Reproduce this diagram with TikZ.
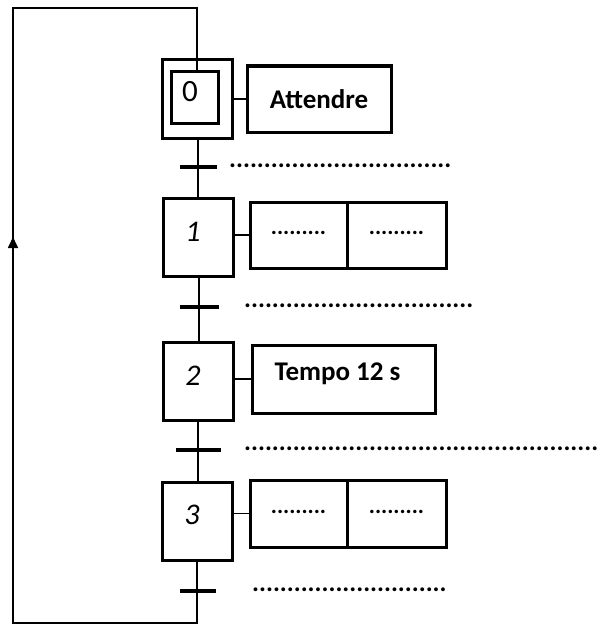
\documentclass[tikz,border=0pt]{standalone}
\usepackage{fontspec}
\setmainfont{Carlito}
\usetikzlibrary{arrows.meta}
\begin{document}
\begin{tikzpicture}[x=1pt,y=-1pt,
  stepbox/.style={draw, line width=3pt, minimum width=70pt, minimum height=78pt, inner sep=0pt},
  innerbox/.style={draw, line width=3pt, minimum width=47pt, minimum height=52pt, inner sep=0pt},
  actbox/.style={draw, line width=3pt, minimum height=66pt, inner sep=0pt, font=\fontsize{27}{30}\selectfont\bfseries},
  steplabel/.style={font=\fontsize{30}{34}\selectfont\itshape, inner sep=0pt},
  dotsbox/.style={font=\fontsize{23}{26}\selectfont\bfseries, inner sep=0pt},
  recept/.style={font=\fontsize{26}{30}\selectfont\bfseries, inner sep=0pt, anchor=west},
  link/.style={line width=1.7pt},
  trans/.style={line width=3.2pt}
]
\useasboundingbox (0,0) rectangle (603,626);

% steps
\node[stepbox] (s0) at (197,99) {};
\node[innerbox] (s0i) at (195,97) {};
\node[font=\fontsize{31}{34}\selectfont, inner sep=0pt] (l0) at (190,92) {0};
\node[stepbox] (s1) at (198,237.5) {};
\node[steplabel] (l1) at (193,232) {1};
\node[stepbox] (s2) at (198,381.5) {};
\node[steplabel] (l2) at (193,376) {2};
\node[stepbox] (s3) at (197.5,521) {};
\node[steplabel] (l3) at (192,515) {3};

% actions
\node[actbox, minimum width=144pt] (a0) at (319,99) {Attendre};
\node[actbox, minimum width=97pt] (a1a) at (298.5,235) {};
\node[actbox, minimum width=99pt] (a1b) at (396.5,235) {};
\node[dotsbox] (d1a) at (298.5,233) {.........};
\node[dotsbox] (d1b) at (396.5,233) {.........};
\node[actbox, minimum width=183pt, minimum height=68pt] (a2) at (343.5,379) {};
\node[font=\fontsize{27}{30}\selectfont\bfseries, inner sep=0pt] (t2txt) at (337.5,374) {Tempo 12 s};
\node[actbox, minimum width=97pt, minimum height=67pt] (a3a) at (298.5,513.5) {};
\node[actbox, minimum width=99pt, minimum height=67pt] (a3b) at (396.5,513.5) {};
\node[dotsbox] (d3a) at (298.5,512) {.........};
\node[dotsbox] (d3b) at (396.5,512) {.........};

% action links
\draw[link] (s0.east |- a0.west) -- (a0.west);
\draw[link] (s1.east |- a1a.west) -- (a1a.west);
\draw[link] (s2.east |- a2.west) -- (a2.west);
\draw[link] (s3.east |- a3a.west) -- (a3a.west);

% transitions
\coordinate (t0) at (198,167);
\coordinate (t1) at (199,307);
\coordinate (t2) at (198,450);
\coordinate (t3) at (198,591);
\draw[link] (s0.south -| t0) -- (s1.north -| t0);
\draw[link] (s1.south -| t1) -- (s2.north -| t1);
\draw[link] (s2.south -| t2) -- (s3.north -| t2);
\draw[trans] ([xshift=-18pt]t0) -- ([xshift=19pt]t0);
\draw[trans] ([xshift=-19pt]t1) -- ([xshift=20pt]t1);
\draw[trans] ([xshift=-22pt]t2) -- ([xshift=23pt]t2);
\draw[trans] ([xshift=-18pt]t3) -- ([xshift=18pt]t3);

% receptivities
\node[recept] (r0) at (229,166) {................................};
\node[recept] (r1) at (244,306) {.................................};
\node[recept] (r2) at (244,449) {...................................................};
\node[recept] (r3) at (252,590) {............................};

% loop
\coordinate (bl) at (13,623);
\coordinate (tl) at (13,8);
\coordinate (br) at (197,623);
\coordinate (tr) at (197,8);
\draw[link] (s3.south -| br) -- (br) -- (bl) -- (tl) -- (tr) -- (s0i.north -| tr);
\draw[-{Triangle[width=10pt,length=11pt]}, line width=1.7pt] (13,260) -- (13,237);
\end{tikzpicture}
\end{document}
